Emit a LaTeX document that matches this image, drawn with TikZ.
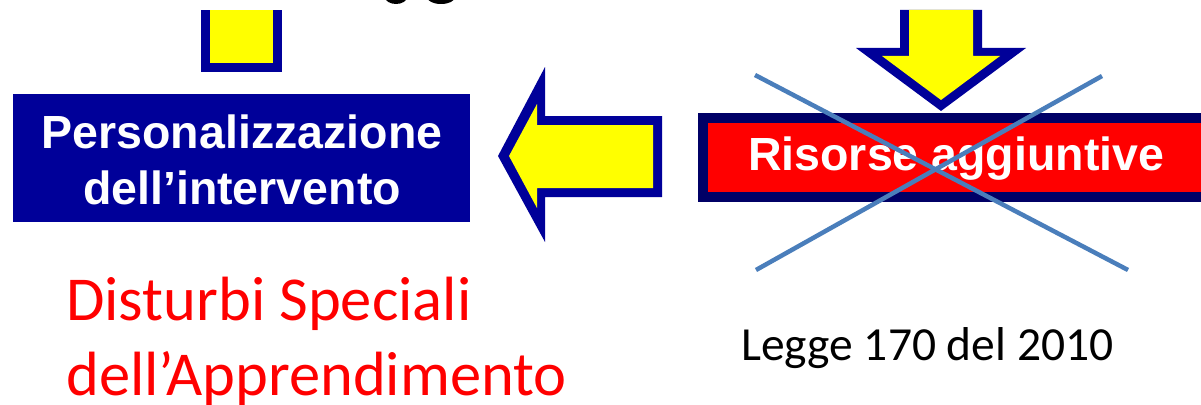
\documentclass[tikz,border=0pt]{standalone}
\usepackage{fontspec}
\setmainfont{Liberation Sans}
\newfontfamily\calib{Carlito}
\definecolor{boxblue}{HTML}{000099}
\definecolor{navy}{HTML}{000066}
\definecolor{arryellow}{HTML}{FFFF00}
\definecolor{crossblue}{HTML}{4A7EBB}
\definecolor{txtred}{HTML}{FF0000}
\tikzset{
  boxtext/.style={inner sep=0pt, text=white, font=\bfseries\fontsize{46.5}{56}\selectfont, align=center},
  caltext/.style={inner sep=0pt, align=left},
  crossline/.style={draw=crossblue, line width=4.5pt},
}
\begin{document}
\begin{tikzpicture}[x=1pt,y=-1pt]
\useasboundingbox (0,0) rectangle (1201,404);
\clip (0,0) rectangle (1201,404);
% top black fragments
\begin{scope}
\clip (0,0) rectangle (1201,4.5);
\fill[black] (396,-3) ellipse [x radius=11, y radius=7];
\fill[black] (441,-3) ellipse [x radius=14, y radius=7];
\end{scope}
% stem top-left
\fill[boxblue] (201,10) rectangle (282,72);
\fill[arryellow] (210,10) rectangle (273,63);
% blue box
\node[fill=boxblue, minimum width=457pt, minimum height=128pt, inner sep=0pt] (pbox) at (241.5,158) {};
\node[boxtext, anchor=base] (ptext) at (242,204) {Personalizzazione\\dell’intervento};
% left arrow
\fill[boxblue] (498,156) -- (545,67) -- (545,116) -- (662,116) -- (662,197) -- (545,197) -- (545,242) -- cycle;
\fill[arryellow] (509,156) -- (537,104) -- (537,125) -- (653,125) -- (653,188) -- (537,188) -- (537,208) -- cycle;
% down arrow
\fill[boxblue] (900,10) -- (982,10) -- (982,48) -- (1026,48) -- (941,111) -- (856,48) -- (900,48) -- cycle;
\fill[arryellow] (909,10) -- (973,10) -- (973,56) -- (1000,56) -- (941,100) -- (882,56) -- (909,56) -- cycle;
% red box
\fill[navy] (698,113) rectangle (1215,202);
\fill[txtred] (708,123) rectangle (1215,192);
\node[boxtext, anchor=base west] (rtext) at (748,170) {Risorse aggiuntive};
% cross
\coordinate (c1) at (755,75);
\coordinate (c2) at (1128,270);
\coordinate (c3) at (1102,76);
\coordinate (c4) at (756,270);
\draw[crossline] (c1) -- (c2);
\draw[crossline] (c3) -- (c4);
% bottom texts
\node[caltext, anchor=base west, text=txtred, font=\calib\fontsize{62.5}{75}\selectfont] (dsa) at (66,395) {Disturbi Speciali\\dell’Apprendimento};
\node[caltext, anchor=base west, text=black, font=\calib\fontsize{47.5}{56}\selectfont] (legge) at (741,360) {Legge 170 del 2010};
\end{tikzpicture}
\end{document}
